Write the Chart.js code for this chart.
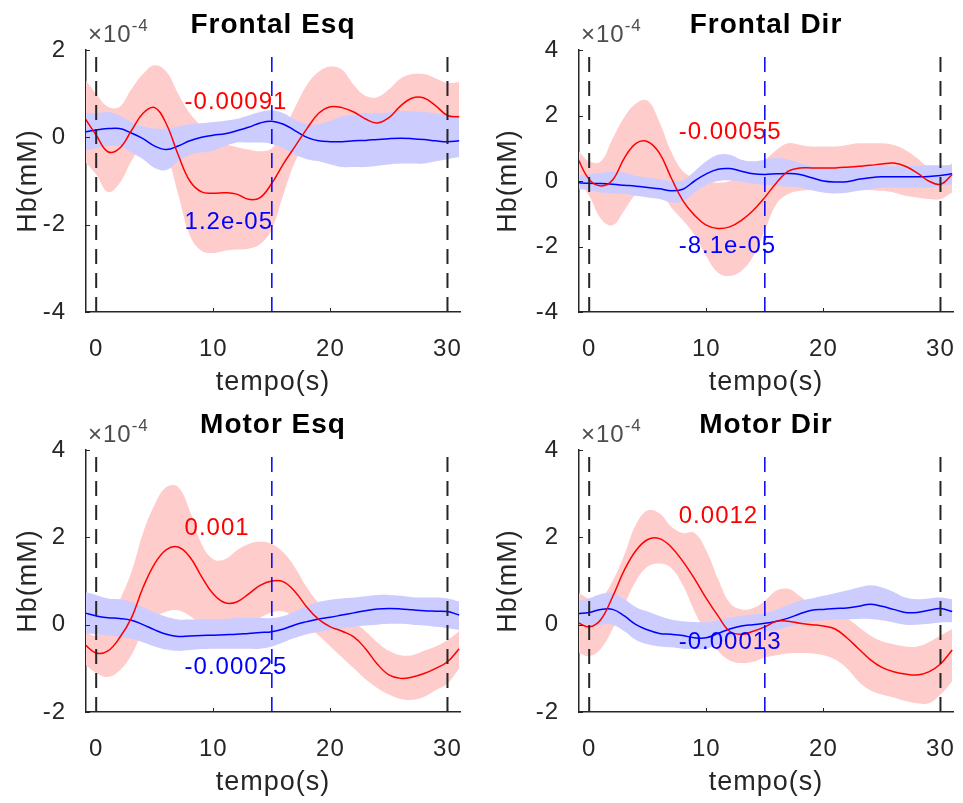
<!DOCTYPE html>
<html>
<head>
<meta charset="utf-8">
<script src="https://cdn.jsdelivr.net/npm/chart.js@4/dist/chart.umd.min.js"></script>
<style>
  html, body { margin: 0; padding: 0; background: #fff; }
  #wrap { position: relative; width: 963px; height: 803px; }
  canvas { position: absolute; }
</style>
</head>
<body>
<div id="wrap">
  <canvas id="c1" width="480" height="400" style="left:0;top:0"></canvas>
  <canvas id="c2" width="483" height="400" style="left:480px;top:0"></canvas>
  <canvas id="c3" width="480" height="400" style="left:0;top:400px"></canvas>
  <canvas id="c4" width="483" height="400" style="left:480px;top:400px"></canvas>
</div>
<script>
// time axis (s), one sample per second
const TIME = [-1, 0, 1, 2, 3, 4, 5, 6, 7, 8, 9, 10, 11, 12, 13, 14, 15, 16, 17, 18, 19, 20, 21, 22, 23, 24, 25, 26, 27, 28, 29, 30, 31];
const X_TICKS = [0, 10, 20, 30];
const EVENT_TIMES = [0, 15, 30];

// all Hb values below are in units of 1e-4 mM
// Frontal Esq
const FE_RED    = [0.45, 0.05, -0.33, -0.25, 0.15, 0.55, 0.68, 0.3, -0.4, -1.0, -1.25, -1.28, -1.27, -1.3, -1.42, -1.38, -1.05, -0.6, -0.2, 0.2, 0.55, 0.7, 0.68, 0.58, 0.42, 0.33, 0.45, 0.72, 0.9, 0.9, 0.72, 0.5, 0.47];
const FE_RED_HI = [1.35, 1.0, 0.7, 0.7, 1.1, 1.45, 1.65, 1.5, 1.0, 0.55, 0.25, 0.0, -0.15, -0.22, -0.28, -0.32, -0.25, 0.15, 0.7, 1.2, 1.5, 1.62, 1.55, 1.2, 0.95, 0.92, 1.1, 1.35, 1.45, 1.45, 1.35, 1.25, 1.27];
const FE_RED_LO = [-0.55, -0.85, -1.25, -1.05, -0.55, -0.15, -0.05, -0.4, -1.3, -2.25, -2.6, -2.65, -2.6, -2.57, -2.55, -2.45, -2.1, -1.3, -0.55, -0.1, -0.05, -0.1, -0.15, -0.2, -0.25, -0.25, -0.2, -0.1, 0.2, 0.3, 0.2, 0.0, -0.1];
const FE_BLUE    = [0.12, 0.17, 0.2, 0.2, 0.1, -0.03, -0.2, -0.28, -0.2, -0.08, 0.0, 0.05, 0.08, 0.15, 0.23, 0.33, 0.37, 0.3, 0.15, 0.0, -0.08, -0.1, -0.1, -0.08, -0.07, -0.05, -0.03, -0.02, -0.03, -0.05, -0.08, -0.1, -0.08];
const FE_BLUE_HI = [0.55, 0.55, 0.58, 0.5, 0.35, 0.25, 0.2, 0.2, 0.25, 0.3, 0.32, 0.35, 0.38, 0.42, 0.5, 0.58, 0.62, 0.55, 0.4, 0.3, 0.3, 0.38, 0.48, 0.52, 0.55, 0.55, 0.57, 0.6, 0.6, 0.58, 0.55, 0.5, 0.5];
const FE_BLUE_LO = [-0.3, -0.25, -0.2, -0.2, -0.35, -0.5, -0.7, -0.75, -0.55, -0.4, -0.35, -0.3, -0.2, -0.12, -0.12, -0.12, -0.15, -0.25, -0.4, -0.5, -0.55, -0.62, -0.68, -0.68, -0.68, -0.65, -0.62, -0.6, -0.6, -0.6, -0.55, -0.5, -0.45];

// Frontal Dir
const FD_RED    = [0.7, 0.05, -0.15, 0.03, 0.7, 1.15, 1.2, 0.85, 0.1, -0.6, -1.05, -1.35, -1.45, -1.4, -1.2, -0.9, -0.5, -0.05, 0.3, 0.4, 0.4, 0.4, 0.4, 0.42, 0.45, 0.48, 0.52, 0.55, 0.45, 0.25, 0.0, -0.1, 0.2];
const FD_RED_HI = [0.95, 0.6, 0.6, 1.3, 1.95, 2.37, 2.45, 1.8, 0.9, 0.3, 0.1, 0.0, -0.05, 0.0, 0.2, 0.45, 0.65, 0.95, 1.15, 1.1, 1.05, 1.05, 1.05, 1.1, 1.15, 1.15, 1.15, 1.1, 0.95, 0.7, 0.4, 0.25, 0.55];
const FD_RED_LO = [0.05, -0.45, -1.15, -1.35, -0.9, -0.4, -0.2, -0.3, -0.8, -1.2, -1.65, -2.3, -2.8, -2.9, -2.75, -2.3, -1.5, -0.7, -0.4, -0.3, -0.28, -0.27, -0.27, -0.27, -0.27, -0.28, -0.3, -0.35, -0.45, -0.5, -0.55, -0.55, -0.35];
const FD_BLUE    = [-0.05, -0.07, -0.08, -0.1, -0.13, -0.16, -0.2, -0.24, -0.3, -0.25, 0.0, 0.22, 0.36, 0.38, 0.3, 0.22, 0.2, 0.22, 0.23, 0.2, 0.1, 0.0, -0.03, -0.02, 0.05, 0.1, 0.13, 0.13, 0.13, 0.13, 0.14, 0.17, 0.22];
const FD_BLUE_HI = [0.15, 0.2, 0.25, 0.28, 0.25, 0.15, 0.1, 0.05, 0.0, 0.02, 0.3, 0.6, 0.8, 0.8, 0.65, 0.6, 0.65, 0.7, 0.65, 0.55, 0.45, 0.4, 0.38, 0.4, 0.42, 0.45, 0.45, 0.45, 0.45, 0.47, 0.48, 0.48, 0.5];
const FD_BLUE_LO = [-0.25, -0.28, -0.35, -0.38, -0.4, -0.45, -0.5, -0.55, -0.65, -0.62, -0.35, -0.12, 0.0, 0.02, -0.02, -0.08, -0.12, -0.15, -0.17, -0.2, -0.28, -0.35, -0.38, -0.36, -0.3, -0.25, -0.2, -0.2, -0.2, -0.2, -0.2, -0.15, -0.1];

// Motor Esq
const ME_RED    = [-0.45, -0.65, -0.6, -0.3, 0.15, 0.85, 1.4, 1.72, 1.78, 1.55, 1.1, 0.7, 0.5, 0.52, 0.7, 0.9, 1.0, 0.98, 0.75, 0.4, 0.12, -0.05, -0.15, -0.28, -0.55, -0.9, -1.15, -1.23, -1.2, -1.12, -1.0, -0.85, -0.55];
const ME_RED_HI = [-0.15, -0.25, 0.0, 0.55, 1.2, 2.1, 2.75, 3.15, 3.15, 2.6, 1.85, 1.5, 1.5, 1.7, 1.85, 1.9, 1.85, 1.65, 1.3, 0.85, 0.5, 0.3, 0.2, 0.05, -0.15, -0.4, -0.6, -0.7, -0.7, -0.6, -0.5, -0.35, -0.15];
const ME_RED_LO = [-0.9, -1.1, -1.2, -1.05, -0.7, -0.15, 0.15, 0.3, 0.33, 0.2, 0.0, -0.15, -0.2, -0.15, -0.05, 0.15, 0.28, 0.3, 0.15, -0.05, -0.25, -0.5, -0.75, -1.0, -1.25, -1.45, -1.6, -1.7, -1.72, -1.65, -1.5, -1.35, -1.0];
const ME_BLUE    = [0.27, 0.2, 0.16, 0.14, 0.1, 0.0, -0.12, -0.22, -0.27, -0.26, -0.25, -0.24, -0.23, -0.22, -0.2, -0.18, -0.16, -0.1, 0.0, 0.07, 0.13, 0.17, 0.22, 0.27, 0.32, 0.36, 0.37, 0.36, 0.34, 0.32, 0.31, 0.3, 0.22];
const ME_BLUE_HI = [0.75, 0.68, 0.6, 0.58, 0.52, 0.4, 0.28, 0.18, 0.12, 0.12, 0.12, 0.12, 0.13, 0.15, 0.15, 0.15, 0.15, 0.2, 0.3, 0.42, 0.52, 0.57, 0.6, 0.62, 0.65, 0.68, 0.68, 0.66, 0.63, 0.62, 0.62, 0.6, 0.53];
const ME_BLUE_LO = [-0.2, -0.22, -0.25, -0.28, -0.32, -0.4, -0.5, -0.57, -0.6, -0.58, -0.56, -0.55, -0.55, -0.55, -0.55, -0.55, -0.5, -0.4, -0.3, -0.22, -0.16, -0.12, -0.08, -0.05, -0.02, 0.0, 0.02, 0.02, 0.0, -0.02, -0.05, -0.08, -0.12];

// Motor Dir
const MD_RED    = [0.05, -0.05, 0.12, 0.64, 1.25, 1.7, 1.95, 1.97, 1.78, 1.45, 1.05, 0.6, 0.2, -0.15, -0.22, -0.15, -0.05, 0.08, 0.08, 0.03, 0.0, -0.03, -0.1, -0.3, -0.55, -0.8, -0.98, -1.08, -1.13, -1.15, -1.08, -0.9, -0.58];
const MD_RED_HI = [0.75, 0.6, 0.62, 1.0, 1.6, 2.3, 2.62, 2.55, 2.25, 2.1, 2.1, 1.7, 1.05, 0.5, 0.35, 0.38, 0.55, 0.78, 0.82, 0.65, 0.45, 0.35, 0.3, 0.15, -0.05, -0.25, -0.38, -0.45, -0.5, -0.5, -0.4, -0.25, -0.1];
const MD_RED_LO = [-0.62, -0.72, -0.55, -0.1, 0.45, 1.0, 1.33, 1.4, 1.3, 0.9, 0.3, -0.2, -0.6, -0.82, -0.88, -0.85, -0.75, -0.7, -0.66, -0.65, -0.66, -0.7, -0.8, -1.0, -1.3, -1.5, -1.6, -1.67, -1.75, -1.8, -1.8, -1.6, -1.3];
const MD_BLUE    = [0.25, 0.28, 0.35, 0.35, 0.2, 0.0, -0.12, -0.2, -0.22, -0.25, -0.3, -0.3, -0.2, -0.1, -0.03, 0.0, 0.03, 0.08, 0.15, 0.25, 0.33, 0.35, 0.37, 0.38, 0.42, 0.47, 0.42, 0.35, 0.28, 0.28, 0.33, 0.37, 0.3];
const MD_BLUE_HI = [0.55, 0.6, 0.7, 0.72, 0.58, 0.4, 0.3, 0.2, 0.12, 0.08, 0.06, 0.06, 0.1, 0.16, 0.2, 0.23, 0.26, 0.35, 0.45, 0.55, 0.6, 0.66, 0.72, 0.78, 0.85, 0.9, 0.85, 0.75, 0.62, 0.58, 0.6, 0.62, 0.58];
const MD_BLUE_LO = [0.02, 0.0, 0.0, 0.0, -0.15, -0.35, -0.45, -0.5, -0.52, -0.55, -0.56, -0.55, -0.45, -0.3, -0.2, -0.18, -0.15, -0.12, -0.05, 0.02, 0.07, 0.1, 0.12, 0.12, 0.13, 0.13, 0.1, 0.05, 0.0, 0.0, 0.02, 0.05, 0.05];

const FE_Y_TICKS = [-4, -2, 0, 2];
const FD_Y_TICKS = [-4, -2, 0, 2, 4];
const MOTOR_Y_TICKS = [-2, 0, 2, 4];

const X_MIN = -0.87, X_MAX = 31.07;
const FONT = "'Liberation Sans', Arial, Helvetica, sans-serif";
const AXIS = '#262626';
const RED = '#ff0000', BLUE = '#0000ff';
const RED_BAND = '#ffcccc', BLUE_BAND = '#ccccff';

Chart.defaults.font.family = FONT;

const PANELS = [
  { canvas: 'c1', title: 'Frontal Esq', yTicks: FE_Y_TICKS, axisW: 86, padR: 20,
    red: FE_RED, redHi: FE_RED_HI, redLo: FE_RED_LO, blue: FE_BLUE, blueHi: FE_BLUE_HI, blueLo: FE_BLUE_LO,
    notes: [{ text: '-0.00091', x: 7.55, y: 0.8, color: RED }, { text: '1.2e-05', x: 7.55, y: -1.95, color: BLUE }] },
  { canvas: 'c2', title: 'Frontal Dir', yTicks: FD_Y_TICKS, axisW: 99, padR: 10,
    red: FD_RED, redHi: FD_RED_HI, redLo: FD_RED_LO, blue: FD_BLUE, blueHi: FD_BLUE_HI, blueLo: FD_BLUE_LO,
    notes: [{ text: '-0.00055', x: 7.65, y: 1.5, color: RED }, { text: '-8.1e-05', x: 7.65, y: -2.0, color: BLUE }] },
  { canvas: 'c3', title: 'Motor Esq', yTicks: MOTOR_Y_TICKS, axisW: 86, padR: 20,
    red: ME_RED, redHi: ME_RED_HI, redLo: ME_RED_LO, blue: ME_BLUE, blueHi: ME_BLUE_HI, blueLo: ME_BLUE_LO,
    notes: [{ text: '0.001', x: 7.55, y: 2.2, color: RED }, { text: '-0.00025', x: 7.55, y: -0.97, color: BLUE }] },
  { canvas: 'c4', title: 'Motor Dir', yTicks: MOTOR_Y_TICKS, axisW: 99, padR: 10,
    red: MD_RED, redHi: MD_RED_HI, redLo: MD_RED_LO, blue: MD_BLUE, blueHi: MD_BLUE_HI, blueLo: MD_BLUE_LO,
    notes: [{ text: '0.0012', x: 7.65, y: 2.49, color: RED }, { text: '-0.00013', x: 7.65, y: -0.4, color: BLUE }] },
];

function pts(ys) {
  return TIME.map((t, i) => ({ x: t, y: ys[i] }));
}

function buildDatasets(p) {
  const yMin = p.yTicks[0], yMax = p.yTicks[p.yTicks.length - 1];
  // dashed event markers go first so they end up drawn on top
  const events = EVENT_TIMES.map((t, i) => ({
    data: [{ x: t, y: yMin }, { x: t, y: yMax }],
    borderColor: i === 1 ? BLUE : AXIS,
    borderWidth: i === 1 ? 1.5 : 2,
    borderDash: [15, 9],
    tension: 0,
    fill: false,
  }));
  return events.concat([
    { data: pts(p.red), borderColor: RED, borderWidth: 1.5, fill: false },
    { data: pts(p.blue), borderColor: BLUE, borderWidth: 1.5, fill: false },
    { data: pts(p.blueHi), borderWidth: 0, borderColor: BLUE_BAND, backgroundColor: BLUE_BAND, fill: '+1' },
    { data: pts(p.blueLo), borderWidth: 0, borderColor: BLUE_BAND, fill: false },
    { data: pts(p.redHi), borderWidth: 0, borderColor: RED_BAND, backgroundColor: RED_BAND, fill: '+1' },
    { data: pts(p.redLo), borderWidth: 0, borderColor: RED_BAND, fill: false },
  ]);
}

function makeDecor(p) {
  return {
    id: 'decor',
    beforeDraw(chart) {
      // matlab text is set a little looser than the canvas default
      chart.ctx.letterSpacing = '1px';
    },
    beforeDatasetDraw(chart, args) {
      // value labels sit under the dashed markers
      if (args.index !== EVENT_TIMES.length - 1) return;
      const ctx = chart.ctx, xs = chart.scales.x, ys = chart.scales.y;
      ctx.save();
      ctx.font = '24px ' + FONT;
      ctx.textAlign = 'left';
      ctx.textBaseline = 'middle';
      p.notes.forEach(n => {
        ctx.fillStyle = n.color;
        ctx.fillText(n.text, xs.getPixelForValue(n.x), ys.getPixelForValue(n.y));
      });
      ctx.restore();
    },
    afterDraw(chart) {
      const ctx = chart.ctx, area = chart.chartArea;
      const xs = chart.scales.x, ys = chart.scales.y;
      ctx.save();
      // inward tick marks, matlab style
      ctx.strokeStyle = AXIS;
      ctx.lineWidth = 1;
      ctx.beginPath();
      X_TICKS.forEach(v => {
        const px = Math.round(xs.getPixelForValue(v)) + 0.5;
        ctx.moveTo(px, area.bottom);
        ctx.lineTo(px, area.bottom - 4);
      });
      p.yTicks.forEach(v => {
        const py = Math.round(ys.getPixelForValue(v)) + 0.5;
        ctx.moveTo(area.left, py);
        ctx.lineTo(area.left + 4, py);
      });
      ctx.stroke();

      // title
      ctx.fillStyle = '#000';
      ctx.font = 'bold 28px ' + FONT;
      ctx.textAlign = 'center';
      ctx.textBaseline = 'alphabetic';
      ctx.fillText(p.title, (area.left + area.right) / 2, 33);

      // exponent label
      ctx.fillStyle = '#4d4d4d';
      ctx.textAlign = 'left';
      ctx.font = '24px ' + FONT;
      const base = '\u00d710';
      ctx.fillText(base, area.left + 2, 42);
      const w = ctx.measureText(base).width;
      ctx.font = '17px ' + FONT;
      ctx.fillText('-4', area.left + 2 + w, 31);
      ctx.restore();
      ctx.letterSpacing = '0px';
    }
  };
}

PANELS.forEach(p => {
  new Chart(document.getElementById(p.canvas), {
    type: 'line',
    data: { datasets: buildDatasets(p) },
    plugins: [makeDecor(p)],
    options: {
      responsive: false,
      animation: false,
      events: [],
      layout: { padding: { top: 50, right: p.padR, bottom: 0, left: 0 } },
      elements: { point: { radius: 0 }, line: { tension: 0.4 } },
      plugins: { legend: { display: false }, tooltip: { enabled: false }, title: { display: false } },
      scales: {
        x: {
          type: 'linear', min: X_MIN, max: X_MAX,
          grid: { display: false },
          border: { display: true, color: AXIS, width: 1.5 },
          ticks: { color: AXIS, font: { size: 24 }, padding: 15, maxRotation: 0, autoSkip: false },
          afterBuildTicks: s => { s.ticks = X_TICKS.map(v => ({ value: v })); },
          afterFit: s => { s.height = 88; s.paddingLeft = 0; s.paddingRight = 0; },
          title: { display: true, text: 'tempo(s)', color: AXIS, font: { size: 27 }, padding: { top: 0, bottom: 1 } }
        },
        y: {
          type: 'linear', min: p.yTicks[0], max: p.yTicks[p.yTicks.length - 1],
          grid: { display: false },
          border: { display: true, color: AXIS, width: 1.5 },
          ticks: { color: AXIS, font: { size: 24 }, padding: 12, autoSkip: false },
          afterBuildTicks: s => { s.ticks = p.yTicks.map(v => ({ value: v })); },
          afterFit: s => { s.width = p.axisW; s.paddingTop = 0; s.paddingBottom = 0; },
          title: { display: true, text: 'Hb(mM)', color: AXIS, font: { size: 27 }, padding: { top: 12, bottom: 0 } }
        }
      }
    }
  });
});
</script>
</body>
</html>
